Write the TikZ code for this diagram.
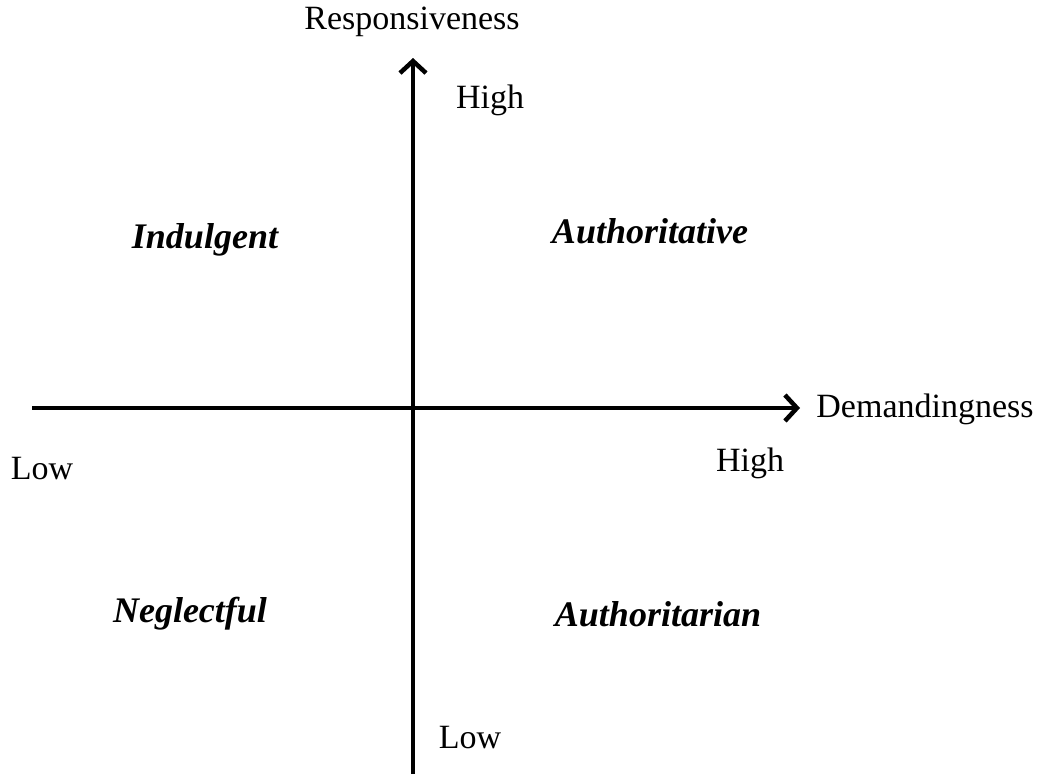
\documentclass[tikz,border=0pt]{standalone}
\usepackage{fontspec}
\setmainfont{Liberation Serif}
\usetikzlibrary{arrows.meta}
\tikzset{
  axisline/.style={line width=4.5pt, -{Straight Barb[length=12pt,width=26pt,line width=4.5pt]}},
  axislabel/.style={font=\fontsize{34}{40}\selectfont, inner sep=0pt},
  stylelabel/.style={font=\fontsize{36}{42}\selectfont\bfseries\itshape, inner sep=0pt}
}

\begin{document}
\begin{tikzpicture}[x=1pt, y=-1pt]
			%%%%% START %%%%%
			
			\useasboundingbox (0, 0) rectangle (1038, 774);
			
			\coordinate (xlow) at (32, 408);
			\coordinate (xhigh) at (800, 408);
			\coordinate (ylow) at (413, 774);
			\coordinate (yhigh) at (413, 58);
			
			\draw[axisline] (xlow) -- (xhigh);
			\draw[axisline] (ylow) -- (yhigh);
			
			\node[axislabel] (resp) at (412, 22) {Responsiveness};
			\node[axislabel] (demand) at (925, 409) {Demandingness};
			\node[axislabel] (yhightext) at (490, 100) {High};
			\node[axislabel] (ylowtext) at (470, 738) {Low};
			\node[axislabel] (xlowtext) at (42, 469) {Low};
			\node[axislabel] (xhightext) at (750, 463) {High};
			
			\node[stylelabel] (indulgent) at (205, 240) {Indulgent};
			\node[stylelabel] (authoritative) at (650, 231) {Authoritative};
			\node[stylelabel] (neglectful) at (190, 614) {Neglectful};
			\node[stylelabel] (authoritarian) at (658, 614) {Authoritarian};
			
			%%%%% END %%%%%
\end{tikzpicture}
\end{document}
